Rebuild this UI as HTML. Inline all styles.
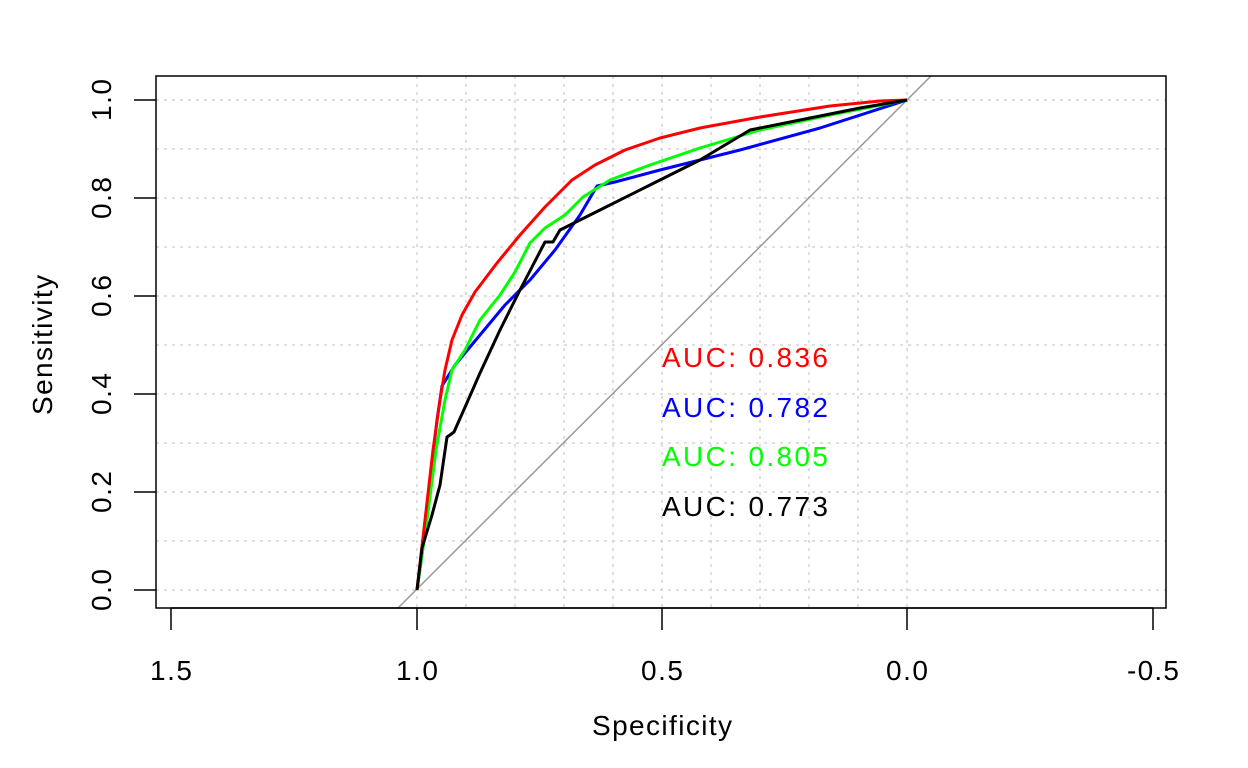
<!DOCTYPE html>
<html><head><style>body{margin:0;background:#fff}svg{display:block}</style></head><body>
<svg width="1248" height="768" xmlns="http://www.w3.org/2000/svg" font-family="Liberation Sans, Arial, sans-serif">
<rect width="1248" height="768" fill="#fff"/>
<g stroke="#d3d3d3" stroke-width="1.5" stroke-dasharray="3,5">
<line x1="156" x2="1166" y1="100" y2="100"/><line x1="156" x2="1166" y1="149" y2="149"/><line x1="156" x2="1166" y1="198" y2="198"/><line x1="156" x2="1166" y1="247" y2="247"/><line x1="156" x2="1166" y1="296" y2="296"/><line x1="156" x2="1166" y1="345" y2="345"/><line x1="156" x2="1166" y1="394" y2="394"/><line x1="156" x2="1166" y1="443" y2="443"/><line x1="156" x2="1166" y1="492" y2="492"/><line x1="156" x2="1166" y1="541" y2="541"/><line x1="156" x2="1166" y1="590" y2="590"/>
<line y1="76" y2="608" x1="417" x2="417"/><line y1="76" y2="608" x1="466" x2="466"/><line y1="76" y2="608" x1="515" x2="515"/><line y1="76" y2="608" x1="564" x2="564"/><line y1="76" y2="608" x1="613" x2="613"/><line y1="76" y2="608" x1="662" x2="662"/><line y1="76" y2="608" x1="711" x2="711"/><line y1="76" y2="608" x1="760" x2="760"/><line y1="76" y2="608" x1="809" x2="809"/><line y1="76" y2="608" x1="858" x2="858"/><line y1="76" y2="608" x1="907" x2="907"/>
</g>
<line x1="398" y1="608" x2="931" y2="76" stroke="#999" stroke-width="1.5"/>
<g fill="none" stroke-width="3" stroke-linejoin="round">
<polyline stroke="#0000ff" points="417,590 424,540 430,480 437,420 442,386 455,365 480,335 505,305 530,280 555,250 580,215 597,186 615,182 660,170 740,150 820,128 907,100"/>
<polyline stroke="#00ff00" points="417,590 427,520 436,450 445,400 452,370 465,350 480,320 500,295 515,272 530,243 545,228 565,215 583,197 610,180 650,165 700,148 760,130 830,115 907,100"/>
<polyline stroke="#ff0000" points="417,590 425,520 433,450 440,400 445,370 452,340 462,315 475,292 497,263 520,235 545,207 572,180 595,165 625,150 660,138 700,128 760,117 830,106 880,101 907,100"/>
<polyline stroke="#000000" points="417,590 422,548 432,515 440,485 447,437 450,435 454,432 466,405 480,373 500,330 520,290 545,242 553,242 560,230 570,225 600,210 650,185 700,160 750,130 800,120 860,108 907,100"/>
</g>
<rect x="156" y="76" width="1010" height="532" fill="none" stroke="#000" stroke-width="1.5"/>
<g stroke="#000" stroke-width="1.5">
<line x1="171" x2="1153" y1="608" y2="608"/>
<line x1="171" x2="171" y1="608" y2="630"/><line x1="417" x2="417" y1="608" y2="630"/><line x1="662" x2="662" y1="608" y2="630"/><line x1="907" x2="907" y1="608" y2="630"/><line x1="1153" x2="1153" y1="608" y2="630"/>
<line x1="156" x2="134" y1="100" y2="100"/><line x1="156" x2="134" y1="198" y2="198"/><line x1="156" x2="134" y1="296" y2="296"/><line x1="156" x2="134" y1="394" y2="394"/><line x1="156" x2="134" y1="492" y2="492"/><line x1="156" x2="134" y1="590" y2="590"/>
</g>
<g font-size="28" text-anchor="middle" fill="#000">
<text x="171" y="680" textLength="42">1.5</text><text x="417" y="680" textLength="42">1.0</text><text x="662" y="680" textLength="42">0.5</text><text x="907" y="680" textLength="42">0.0</text><text x="1153" y="680" textLength="52">-0.5</text>
<text x="662" y="735" textLength="140">Specificity</text>
<text transform="translate(111,100) rotate(-90)" textLength="42">1.0</text>
<text transform="translate(111,198) rotate(-90)" textLength="42">0.8</text>
<text transform="translate(111,296) rotate(-90)" textLength="42">0.6</text>
<text transform="translate(111,394) rotate(-90)" textLength="42">0.4</text>
<text transform="translate(111,492) rotate(-90)" textLength="42">0.2</text>
<text transform="translate(111,590) rotate(-90)" textLength="42">0.0</text>
<text transform="translate(52,345) rotate(-90)" textLength="140">Sensitivity</text>
</g>
<g font-size="28">
<text x="662" y="367" fill="#ff0000" textLength="166">AUC: 0.836</text>
<text x="662" y="417" fill="#0000ff" textLength="166">AUC: 0.782</text>
<text x="662" y="466" fill="#00ff00" textLength="166">AUC: 0.805</text>
<text x="662" y="516" fill="#000" textLength="166">AUC: 0.773</text>
</g>
</svg>
</body></html>
